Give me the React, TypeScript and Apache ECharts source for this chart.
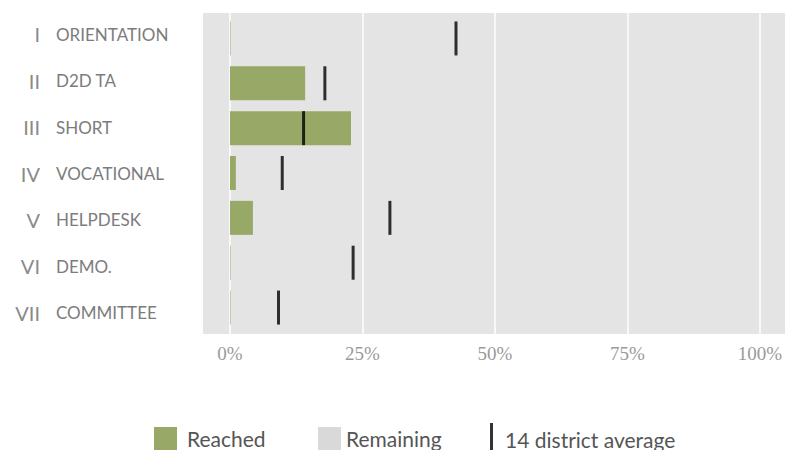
import React, { useEffect, useRef } from "react";
import * as echarts from "echarts";

const categories = ["ORIENTATION", "D2D TA", "SHORT", "VOCATIONAL", "HELPDESK", "DEMO.", "COMMITTEE"];
const romans = ["I", "II", "III", "IV", "V", "VI", "VII"];
const reached = [0.1, 14.1, 22.7, 1.1, 4.3, 0.1, 0.1];
const remaining = [99.9, 85.9, 77.3, 98.9, 95.7, 99.9, 99.9];
const districtAverage = [42.4, 17.8, 13.8, 9.8, 30.0, 23.1, 9.1];
const legendNames = ["Reached", "Remaining", "14 district average"];

const SANS = 'Lato, "Noto Sans", sans-serif';

export default function App() {
  const ref = useRef<HTMLDivElement>(null);
  useEffect(() => {
    if (!ref.current) return;
    const chart = echarts.init(ref.current, null, { renderer: "svg" });
    const hiddenVal = (gridIndex: number) => ({
      type: "value",
      gridIndex,
      min: 0,
      max: 100,
      show: false,
      splitLine: { show: false },
    });
    const option: any = {
      animation: false,
      grid: [
        { left: 203, right: 0, top: 13, bottom: 116, show: true, backgroundColor: "#e4e4e4", borderWidth: 0 },
        { left: 230, right: 22, top: 11, bottom: 114 },
        { left: 230, right: 22, top: 16, bottom: 120 },
      ],
      xAxis: [
        hiddenVal(0),
        {
          type: "value",
          gridIndex: 1,
          min: 0,
          max: 100,
          interval: 25,
          axisLine: { show: false },
          axisTick: { show: false },
          splitLine: { show: true, lineStyle: { color: "#ffffff", width: 1.5 } },
          axisLabel: {
            formatter: "{value}%",
            fontFamily: '"Liberation Serif", "DejaVu Serif", serif',
            fontSize: 19,
            color: "#9a9a9a",
            margin: 8,
          },
        },
        hiddenVal(2),
      ],
      yAxis: [
        {
          type: "category",
          gridIndex: 1,
          position: "left",
          offset: 0,
          inverse: true,
          data: categories,
          axisLine: { show: false },
          axisTick: { show: false },
          splitLine: { show: false },
          axisLabel: {
            align: "left",
            margin: 174,
            fontFamily: SANS,
            fontSize: 17,
            color: "#7c7c7c",
          },
        },
        {
          type: "category",
          gridIndex: 1,
          position: "left",
          offset: 0,
          inverse: true,
          data: categories,
          axisLine: { show: false },
          axisTick: { show: false },
          splitLine: { show: false },
          axisLabel: {
            align: "right",
            margin: 190,
            fontFamily: SANS,
            fontSize: 20,
            color: "#8a8a8a",
            formatter: (_v: string, i: number) => romans[i],
          },
        },
        {
          type: "category",
          gridIndex: 2,
          inverse: true,
          data: categories,
          show: false,
        },
        {
          type: "category",
          gridIndex: 0,
          data: categories,
          show: false,
        },
      ],
      legend: [
        {
          left: 154,
          top: 427,
          padding: 0,
          itemWidth: 23,
          itemHeight: 23,
          data: [{ name: legendNames[0], icon: "rect" }],
          textStyle: { fontFamily: SANS, fontSize: 21, color: "#555", padding: [0, 0, 0, 5] },
        },
        {
          left: 318,
          top: 427,
          padding: 0,
          itemWidth: 23,
          itemHeight: 23,
          data: [{ name: legendNames[1], icon: "rect", itemStyle: { color: "#d9d9d9" } }],
          textStyle: { fontFamily: SANS, fontSize: 21, color: "#555" },
        },
        {
          left: 490,
          top: 423,
          padding: 0,
          itemWidth: 10,
          itemHeight: 32,
          data: [{ name: legendNames[2], icon: "path://M0,0L3,0L3,32L0,32Z M10,32L10,32" }],
          textStyle: { fontFamily: SANS, fontSize: 21, color: "#555" },
        },
      ],
      series: [
        {
          name: legendNames[0],
          type: "bar",
          xAxisIndex: 2,
          yAxisIndex: 2,
          stack: "total",
          barWidth: 34,
          itemStyle: { color: "#98a866" },
          data: reached,
        },
        {
          name: legendNames[1],
          type: "bar",
          xAxisIndex: 2,
          yAxisIndex: 2,
          stack: "total",
          barWidth: 34,
          itemStyle: { color: "rgba(0,0,0,0)" },
          data: remaining,
        },
        {
          name: legendNames[2],
          type: "scatter",
          xAxisIndex: 2,
          yAxisIndex: 2,
          symbol: "rect",
          symbolSize: [3, 34],
          itemStyle: { color: "#000000" },
          data: districtAverage.map((v, i) => [v, categories[i]]),
          z: 5,
        },
      ],
    };
    chart.setOption(option);
    return () => chart.dispose();
  }, []);
  return (
    <div
      ref={ref}
      style={{ position: "absolute", left: 0, top: 0, width: 785, height: 450 }}
    />
  );
}
